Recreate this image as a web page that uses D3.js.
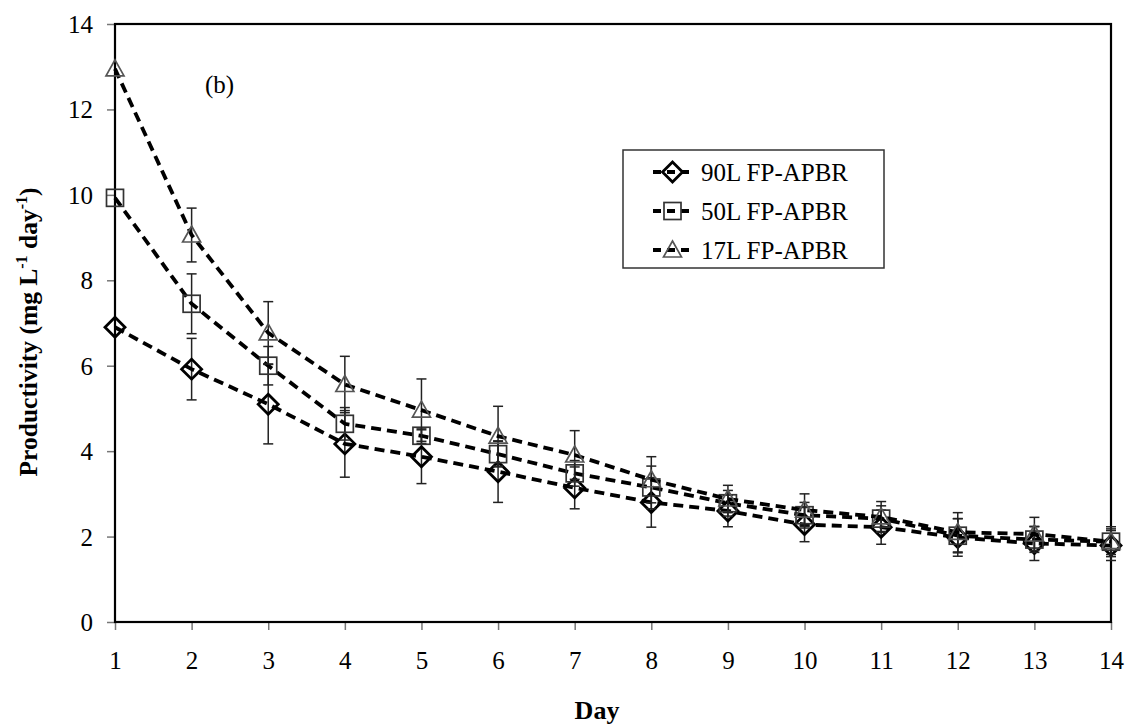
<!DOCTYPE html>
<html>
<head>
<meta charset="utf-8">
<script src="https://cdn.jsdelivr.net/npm/d3@7"></script>
<style>
  html, body { margin: 0; padding: 0; background: #fff; }
  svg { display: block; }
  text { font-family: "Liberation Serif", "Times New Roman", serif; fill: #000; }
</style>
</head>
<body>
<svg id="chart" width="1125" height="725"></svg>
<script>
// Productivity per day for three flat-panel airlift photobioreactors
const days = [1, 2, 3, 4, 5, 6, 7, 8, 9, 10, 11, 12, 13, 14];
const seriesNames = ["90L FP-APBR", "50L FP-APBR", "17L FP-APBR"];
const prod90 = [6.90, 5.92, 5.10, 4.17, 3.87, 3.52, 3.14, 2.80, 2.60, 2.28, 2.22, 1.98, 1.84, 1.79];
const prod50 = [9.93, 7.45, 6.00, 4.64, 4.36, 3.93, 3.48, 3.15, 2.78, 2.50, 2.42, 2.02, 1.93, 1.88];
const prod17 = [12.95, 9.06, 6.77, 5.56, 4.96, 4.35, 3.91, 3.33, 2.88, 2.62, 2.46, 2.10, 2.06, 1.88];
const err90 = [0, 0.72, 0.93, 0.78, 0.63, 0.72, 0.49, 0.58, 0.37, 0.40, 0.40, 0.44, 0.40, 0.35];
const err50 = [0, 0.70, 0.45, 0.38, 0.18, 0.30, 0.30, 0.50, 0.30, 0.30, 0.30, 0.40, 0.30, 0.35];
const err17 = [0, 0.63, 0.73, 0.66, 0.73, 0.70, 0.57, 0.54, 0.32, 0.38, 0.36, 0.46, 0.39, 0.30];
const yTicks = [0, 2, 4, 6, 8, 10, 12, 14];
const panelLabel = "(b)";

const svg = d3.select("#chart");
const plotLeft = 115, plotRight = 1111, plotTop = 24, plotBottom = 622;

const x = d3.scaleLinear().domain([1, 14]).range([plotLeft, plotRight]);
const y = d3.scaleLinear().domain([0, 14]).range([plotBottom, plotTop]);

// axes
const yAxis = d3.axisLeft(y).tickValues(yTicks).tickSize(8).tickPadding(14).tickFormat(d3.format("d"));
const xAxis = d3.axisBottom(x).tickValues(days).tickSize(8).tickPadding(21).tickFormat(d3.format("d"));

const gy = svg.append("g").attr("transform", `translate(${plotLeft},0)`).call(yAxis);
const gx = svg.append("g").attr("transform", `translate(0,${plotBottom})`).call(xAxis);
[gx, gy].forEach(g => {
  g.select(".domain").remove();
  g.selectAll(".tick line").attr("stroke", "#777").attr("stroke-width", 1.5);
  g.selectAll(".tick text").style("font-size", "25px").style("font-family", "Liberation Serif");
});
gy.selectAll(".tick text").attr("dy", "0.34em");

// plot frame
svg.append("rect")
  .attr("x", plotLeft).attr("y", plotTop)
  .attr("width", plotRight - plotLeft).attr("height", plotBottom - plotTop)
  .attr("fill", "none").attr("stroke", "#000").attr("stroke-width", 2.2);

// axis titles
svg.append("text")
  .attr("x", 597).attr("y", 719)
  .attr("text-anchor", "middle")
  .style("font-size", "26px").style("font-weight", "bold")
  .text("Day");

const yt = svg.append("text")
  .attr("transform", "translate(37,332) rotate(-90)")
  .attr("text-anchor", "middle")
  .style("font-size", "25.5px").style("font-weight", "bold");
yt.append("tspan").text("Productivity (mg L");
yt.append("tspan").attr("dy", -10).style("font-size", "16px").text("-1");
yt.append("tspan").attr("dy", 10).text(" day");
yt.append("tspan").attr("dy", -10).style("font-size", "16px").text("-1");
yt.append("tspan").attr("dy", 10).text(")");

svg.append("text")
  .attr("x", 205).attr("y", 93)
  .style("font-size", "25px")
  .text(panelLabel);

// marker shapes
const markerDraw = {
  diamond: (g, cx, cy) => g.append("path")
    .attr("d", `M${cx},${cy - 10}L${cx + 10},${cy}L${cx},${cy + 10}L${cx - 10},${cy}Z`)
    .attr("fill", "none").attr("stroke", "#000").attr("stroke-width", 2.8),
  square: (g, cx, cy) => g.append("rect")
    .attr("x", cx - 8.5).attr("y", cy - 8.5).attr("width", 17).attr("height", 17)
    .attr("fill", "none").attr("stroke", "#333").attr("stroke-width", 1.7),
  triangle: (g, cx, cy) => g.append("path")
    .attr("d", `M${cx},${cy - 9}L${cx + 9},${cy + 7}L${cx - 9},${cy + 7}Z`)
    .attr("fill", "none").attr("stroke", "#555").attr("stroke-width", 1.7)
};

const series = [
  { name: seriesNames[0], values: prod90, errors: err90, marker: "diamond" },
  { name: seriesNames[1], values: prod50, errors: err50, marker: "square" },
  { name: seriesNames[2], values: prod17, errors: err17, marker: "triangle" }
];

const line = d3.line().x(d => x(d.day)).y(d => y(d.v));

series.forEach(s => {
  const pts = days.map((day, i) => ({ day, v: s.values[i], e: s.errors[i] }));
  const g = svg.append("g");

  // error bars
  const eb = g.append("g").attr("stroke", "#222").attr("stroke-width", 1.5);
  pts.filter(p => p.e > 0).forEach(p => {
    const cx = x(p.day), y1 = y(p.v + p.e), y2 = y(p.v - p.e);
    eb.append("line").attr("x1", cx).attr("x2", cx).attr("y1", y1).attr("y2", y2);
    eb.append("line").attr("x1", cx - 5).attr("x2", cx + 5).attr("y1", y1).attr("y2", y1);
    eb.append("line").attr("x1", cx - 5).attr("x2", cx + 5).attr("y1", y2).attr("y2", y2);
  });

  g.append("path").datum(pts)
    .attr("d", line)
    .attr("fill", "none").attr("stroke", "#000")
    .attr("stroke-width", 3.8).attr("stroke-dasharray", "10,6");

  pts.forEach(p => markerDraw[s.marker](g, x(p.day), y(p.v)));
});

// legend
const lg = svg.append("g");
lg.append("rect")
  .attr("x", 623).attr("y", 150).attr("width", 261).attr("height", 118)
  .attr("fill", "#fff").attr("stroke", "#333").attr("stroke-width", 1.5);
series.forEach((s, i) => {
  const cy = 172 + i * 39;
  lg.append("line")
    .attr("x1", 653).attr("x2", 692).attr("y1", cy).attr("y2", cy)
    .attr("stroke", "#000").attr("stroke-width", 3.8).attr("stroke-dasharray", "8,6");
  markerDraw[s.marker](lg, 672.5, cy);
  lg.append("text")
    .attr("x", 701).attr("y", cy + 8.5)
    .style("font-size", "25px")
    .text(s.name);
});
</script>
</body>
</html>
